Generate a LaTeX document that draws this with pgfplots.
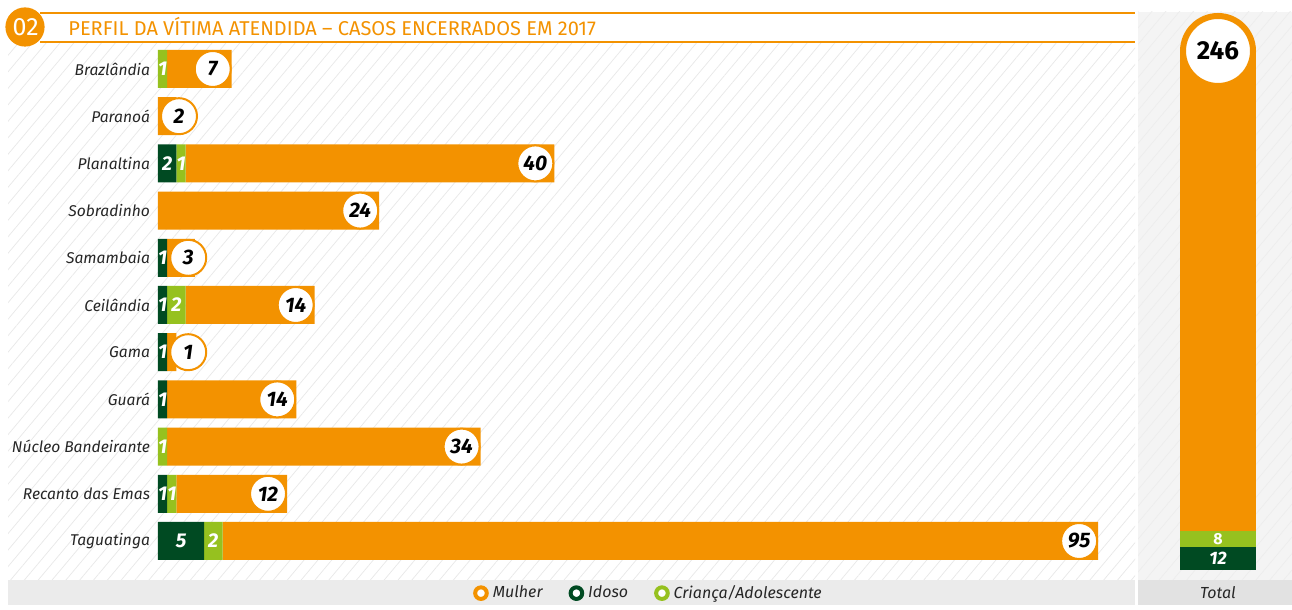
\documentclass[border=0pt]{standalone}
\usepackage{fontspec}
\setmainfont{Fira Sans}
\usepackage{graphicx}
\usepackage{pgfplots}
\pgfplotsset{compat=1.18}
\usepackage{pgfplotstable}
\usetikzlibrary{patterns.meta}
\definecolor{cOr}{HTML}{F39200}
\definecolor{cDk}{HTML}{004A22}
\definecolor{cLt}{HTML}{96C11F}
\definecolor{cPanel}{HTML}{F4F4F4}
\definecolor{cBand}{HTML}{EBEBEB}
\definecolor{cBandT}{HTML}{E2E2E2}

\pgfplotstableread[col sep=comma]{
idx,idoso,crianca,mulher
0,0,1,7
1,0,0,2
2,2,1,40
3,0,0,24
4,1,0,3
5,1,2,14
6,1,0,1
7,1,0,14
8,0,1,34
9,1,1,12
10,5,2,95
}\datatable

\pgfplotstableread[col sep=comma]{
idx,idoso,crianca,mulher
0,12,8,246
}\totaltable

\begin{document}
\begin{tikzpicture}
% canvas
\path[fill=white] (0pt,0pt) rectangle (646pt,302.5pt);
% total panel
\fill[cPanel] (569pt,12.5pt) rectangle (646pt,296.5pt);
% hatch
\fill[pattern={Lines[angle=50,distance=5.3pt,line width=0.35pt]},pattern color=black!9] (4pt,12.5pt) rectangle (567.5pt,281.5pt);
\fill[pattern={Lines[angle=50,distance=5.3pt,line width=0.35pt]},pattern color=black!7] (569pt,12.5pt) rectangle (646pt,296.5pt);
% bottom bands
\fill[cBand] (4pt,0pt) rectangle (567.5pt,12.5pt);
\fill[cBandT] (569pt,0pt) rectangle (646pt,12.5pt);
% header
\draw[cOr,line width=1pt] (20pt,296pt) -- (567.5pt,296pt);
\draw[cOr,line width=1pt] (20pt,281.5pt) -- (567.5pt,281.5pt);
\fill[cOr] (12.5pt,289pt) circle (9.8pt);
\node[text=white,font=\fontsize{12.5}{13}\selectfont] at (12.8pt,289pt) {02};
\node[anchor=west,text=cOr,font=\fontsize{10}{12}\selectfont,inner sep=0pt] at (34pt,289pt) {PERFIL DA VÍTIMA ATENDIDA – CASOS ENCERRADOS EM 2017};
\node[font=\fontsize{8}{9}\selectfont\itshape,text=black!85] at (609pt,6pt) {Total};

\begin{axis}[
  at={(79pt,20.2pt)}, anchor=south west,
  scale only axis, width=488.5pt, height=259.6pt,
  xbar stacked, bar width=19pt,
  xmin=0, xmax=106, ymin=-0.5, ymax=10.5, y dir=reverse,
  ytick={0,...,10},
  yticklabels={Brazlândia,Paranoá,Planaltina,Sobradinho,Samambaia,Ceilândia,Gama,Guará,Núcleo Bandeirante,Recanto das Emas,Taguatinga},
  yticklabel style={font=\fontsize{7.8}{9}\selectfont\itshape, text=black!85, xshift=-0.5pt},
  xtick=\empty, major tick length=0pt,
  axis line style={draw=none},
  clip=false,
  point meta=explicit symbolic,
  legend columns=3,
  legend style={at={(0.503,-0.055)}, anchor=center, draw=none, fill=none,
    font=\fontsize{8}{9}\selectfont\itshape, text=black!85,
    /tikz/every even column/.append style={column sep=11pt}},
  legend cell align=left,
]
\addlegendimage{legend image code/.code={\draw[draw=cOr,line width=2pt,fill=white] (0.12cm,0cm) circle (2.9pt);}}
\addlegendimage{legend image code/.code={\draw[draw=cDk,line width=2pt,fill=white] (0.12cm,0cm) circle (2.9pt);}}
\addlegendimage{legend image code/.code={\draw[draw=cLt,line width=2pt,fill=white] (0.12cm,0cm) circle (2.9pt);}}

\addplot[fill=cDk, draw=none,
  nodes near coords={\ifdim\pgfplotspointmeta pt>0pt \pgfplotspointmeta\fi},
  every node near coord/.append style={anchor=center, inner sep=0pt, text=white, font=\fontsize{10}{10}\selectfont\bfseries\itshape}]
  table[x=idoso,y=idx,meta=idoso]{\datatable};
\addplot[fill=cLt, draw=none,
  nodes near coords={\ifdim\pgfplotspointmeta pt>0pt \pgfplotspointmeta\fi},
  every node near coord/.append style={anchor=center, inner sep=0pt, text=white, font=\fontsize{10}{10}\selectfont\bfseries\itshape}]
  table[x=crianca,y=idx,meta=crianca]{\datatable};
\addplot[fill=cOr, draw=none,
  nodes near coords={\pgfplotspointmeta},
  every node near coord/.append style={anchor=center, circle, fill=white, draw=cOr, line width=1pt, minimum size=18pt, inner sep=0pt, text=black, font=\fontsize{10.5}{10.5}\selectfont\bfseries\itshape, xshift={max(\pgfplotspointmeta*2.30425pt-9.5pt,10.5pt-\pgfplotspointmeta*2.30425pt)}}]
  table[x=mulher,y=idx,meta=mulher]{\datatable};
\legend{Mulher,Idoso,Criança/Adolescente}
\end{axis}

\begin{axis}[
  at={(590pt,17.5pt)}, anchor=south west,
  scale only axis, width=38pt, height=259.5pt,
  ybar stacked, bar width=38pt,
  xmin=-0.5, xmax=0.5, ymin=0, ymax=266,
  hide axis, clip=false,
  point meta=explicit symbolic,
]
\addplot[fill=cDk, draw=none,
  nodes near coords={\pgfplotspointmeta},
  every node near coord/.append style={anchor=center, inner sep=0pt, text=white, font=\fontsize{9}{9}\selectfont\bfseries\itshape}]
  table[x=idx,y=idoso,meta=idoso]{\totaltable};
\addplot[fill=cLt, draw=none,
  nodes near coords={\pgfplotspointmeta},
  every node near coord/.append style={anchor=center, inner sep=0pt, text=white, font=\fontsize{8}{8}\selectfont\bfseries}]
  table[x=idx,y=crianca,meta=crianca]{\totaltable};
\addplot[fill=cOr, draw=none,
  nodes near coords={\pgfplotspointmeta},
  every node near coord/.append style={anchor=center, circle, fill=white, draw=cOr, line width=3pt, minimum size=35pt, inner sep=0pt, text=black, font=\fontsize{13}{13}\selectfont\bfseries, yshift={\pgfplotspointmeta*0.48778pt}}]
  table[x=idx,y=mulher,meta=mulher]{\totaltable};
\end{axis}
\end{tikzpicture}
\end{document}
